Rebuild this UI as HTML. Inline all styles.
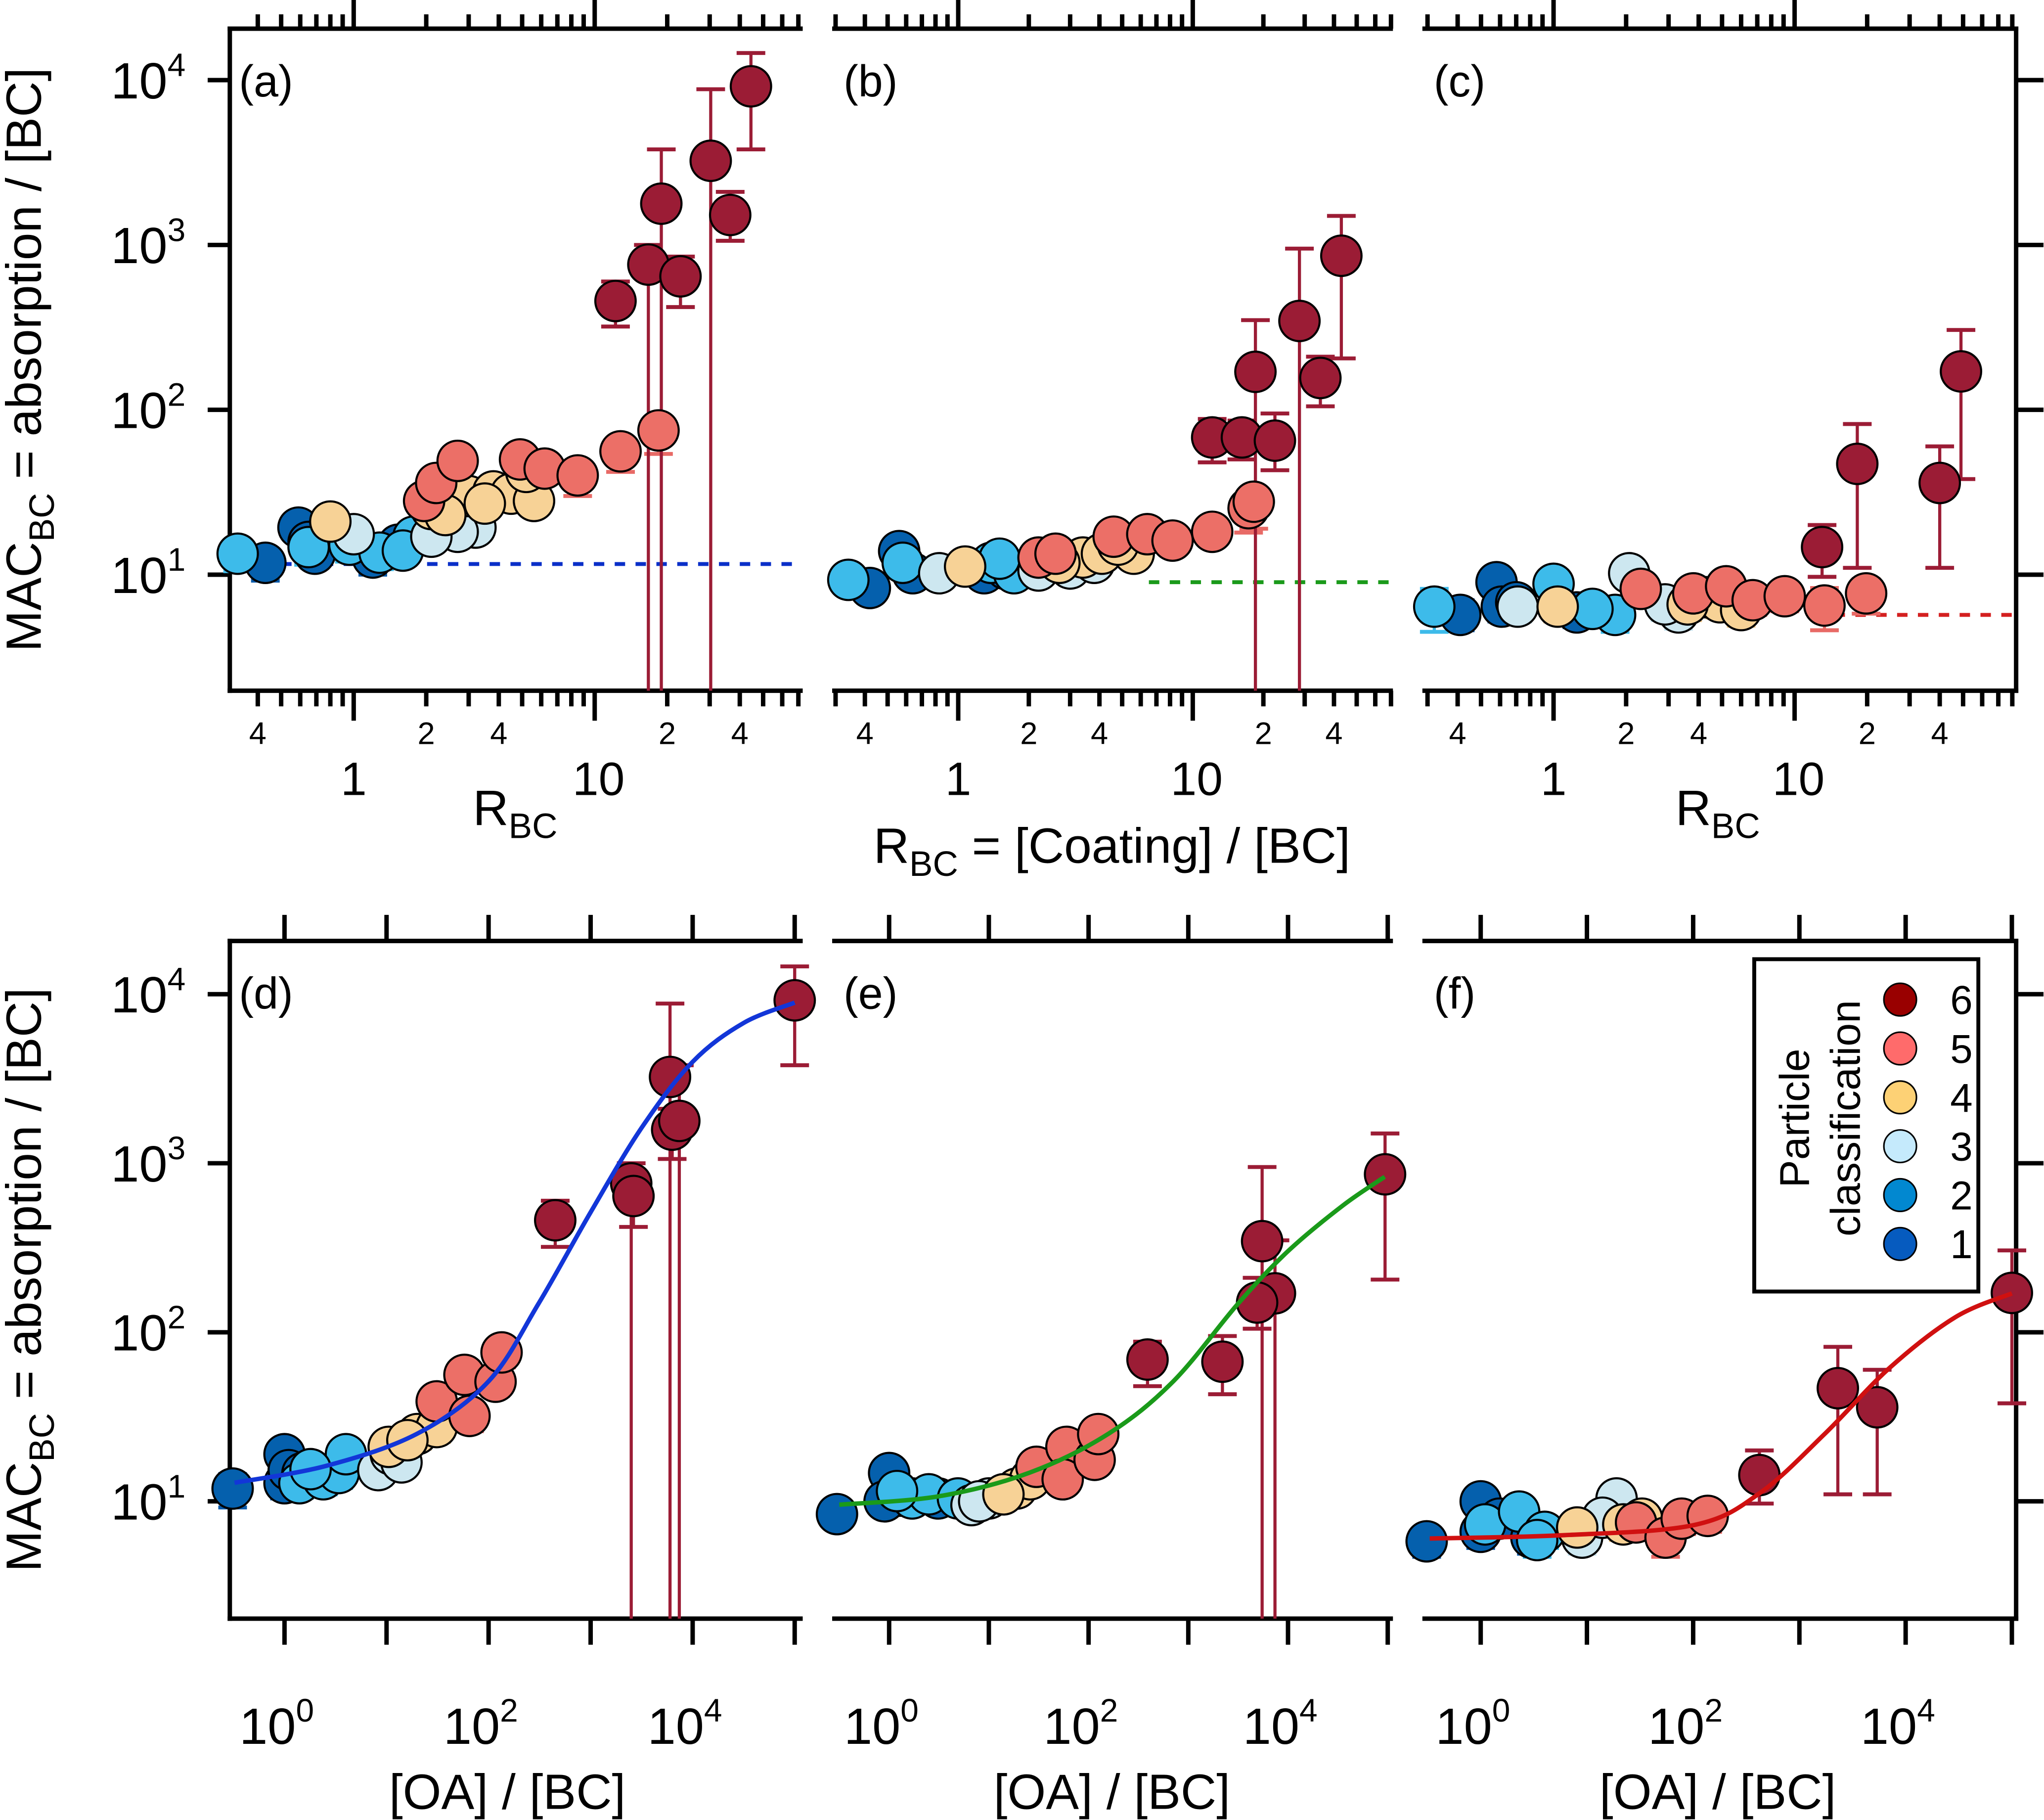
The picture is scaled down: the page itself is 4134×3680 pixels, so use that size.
<!DOCTYPE html>
<html><head><meta charset="utf-8"><style>html,body{margin:0;padding:0;background:#fff}svg{display:block}text{font-family:"Liberation Sans",Arial,sans-serif;fill:#000}</style></head>
<body>
<svg id="chart" xmlns="http://www.w3.org/2000/svg" width="4134" height="3680" viewBox="0 0 1568 1396.5"></svg>
<script>
// ---------- DATA ----------
const catColors = ["#0560ad","#3dbbea","#cde7f0","#f7d296","#ec6f67","#9b1c35"];
const errColors = ["#0a5bab","#3dbbea","#c5e2ee","#f3c98a","#e86a66","#9b1c35"];
const legendColors = ["#065bbf","#0288d0","#c5eafc","#fdd175","#ff6b6b","#990000"];
const legendLabels = ["1","2","3","4","5","6"];

// Panel (a): R_BC vs MAC
const aX  = [0.33,0.65,0.96,1.28,1.77,1.6, 0.43,0.59,0.65,0.69,1.2,1.53, 1.0,2.5,3.2,2.7,2.1, 0.8,2.1,3.0,3.8,4.5,5.6,5.2,3.5,2.4, 1.96,2.2,2.7,4.9,6.2,8.5,12.8,18.4, 12.2,16.7,18.9,22.7,30.3,36.5,44.5];
const aY  = [13.4,14.7,15.2,13.6,17,14, 11.8,19.3,15.8,13.4,12.7,15.2, 17.6,19.3,19.3,18.2,17, 21,25,30,32,31,28,42,27,23, 28,36,49,50,44,40,56,75, 457,760,1780,645,3240,1520,9170];
const aC  = [2,2,2,2,2,2, 1,1,1,1,1,1, 3,3,3,3,3, 4,4,4,4,4,4,4,4,4, 5,5,5,5,5,5,5,5, 6,6,6,6,6,6,6];
const aLo = [10.5,11.5,12,10.8,14,11.5, 9.2,16,13,11,10,12.5, 14.5,16,16,15,14, 18,21,26,28,27,24,36,23,20, 24,31,42,43,38,30,42,54, 320,0,0,420,0,1060,3800];
const aHi = [15,17,17.5,15.5,19.5,16, 13.5,23,18,15,14.5,17.5, 20,22,22,21,19.5, 24,29,35,37,36,33,50,31,26.5, 33,42,56,57,51,48,68,90, 600,1000,3800,850,8800,2100,14600];

// Panel (b)
const bX  = [0.34,0.58,1.38,1.73,1.5, 0.42,0.56,0.64,1.29,1.6, 0.83,2.2,3.0,3.8, 1.07,3.4,4.1,5.6,4.8,2.7, 2.2,2.6,4.6,6.4,8.2,12.1,17.3,18.2, 12.1,16.2,18.5,22.4,28.5,35,43];
const bY  = [9.3,11.8,11.8,10.2,12.5, 8.3,13.9,10.2,10.2,10.8, 10.2,10.6,10.9,11.8, 11.2,12.7,13.4,13.4,15.2,11.8, 12.7,13.4,17,17.6,16.1,18.2,25.3,27.7, 68,68,170,65,346,156,860];
const bC  = [2,2,2,2,2, 1,1,1,1,1, 3,3,3,3, 4,4,4,4,4,4, 5,5,5,5,5,5,5,5, 6,6,6,6,6,6,6];
const bLo = [7.8,10,10,8.6,10.5, 7,11.8,8.6,8.6,9.1, 8.6,9,9.2,10, 9.5,10.8,11.4,11.4,13,10, 10.8,11.4,14.4,15,13.7,15.5,18,19, 48,50,0,43,0,105,205];
const bHi = [11,13.8,13.8,12,14.6, 9.8,16.3,12,12,12.6, 12,12.4,12.8,13.8, 13.1,14.9,15.7,15.7,17.8,13.8, 14.9,15.7,19.9,20.6,18.8,21.3,30,33, 88,86,350,95,950,210,1500];

// Panel (c)
const cX  = [0.32,1.0,1.8,1.45, 0.41,0.58,0.61,0.7,1.25, 0.71,2.06,3.3,2.9, 1.04,4.3,4.9,6.0,3.6, 2.3,3.8,5.2,6.7,9.1,13.3,19.8, 13.0,18.2,40,49];
const cY  = [6.4,8.8,5.7,6.2, 5.7,9.0,6.4,6.8,5.9, 6.4,10.2,5.9,6.6, 6.4,7.3,6.8,6.1,6.6, 8.2,7.7,8.5,7.0,7.4,6.5,7.7, 14.7,47,36,171];
const cC  = [2,2,2,2, 1,1,1,1,1, 3,3,3,3, 4,4,4,4,4, 5,5,5,5,5,5,5, 6,6,6,6];
const cLo = [4.5,7.2,4.5,5, 4.6,7.5,5.2,5.5,4.8, 5.2,8.4,4.7,5.3, 5.2,6,5.5,4.9,5.3, 6.7,6.3,7,5.7,6,4.6,5.8, 9.7,11,11,38];
const cHi = [8.2,10.5,7,7.5, 7,10.6,7.7,8.1,7.1, 7.7,12,7.1,7.9, 7.7,8.7,8.1,7.3,7.9, 9.8,9.2,10.1,8.4,8.8,8.3,9.4, 20,82,60,305];

// Panel (d): OA/BC vs MAC
const dX  = [1.4,2.4,3.4,4.0,1.8, 0.31,1.0,1.0,1.1,1.5, 8.3,11,14, 10.5,20,31,16, 31,58,65,117,134, 450,2500,2630,6000,6300,7400,100000];
const dY  = [12.8,13.5,14.7,19,15.5, 11.9,19,12.8,15.3,14.7, 15.3,19,17, 21,25,27.5,23, 39,56,32,51,76, 460,760,640,3240,1580,1780,9200];
const dC  = [2,2,2,2,2, 1,1,1,1,1, 3,3,3, 4,4,4,4, 5,5,5,5,5, 6,6,6,6,6,6,6];
const dLo = [10.5,11,12,15.5,12.5, 9.2,15.5,10.4,12.5,12, 12.5,15.5,14, 17,20.5,22.5,19, 32,46,26,42,62, 320,0,420,0,1060,0,3800];
const dHi = [15,16,17.5,22.5,18.5, 14.5,22.5,15.2,18.2,17.5, 18.2,22.5,20, 25,29.5,32.5,27, 46,66,38,60,90, 600,1000,850,8800,2100,3800,14600];

// Panel (e)
const eX  = [1.7,2.5,4.9,1.2, 0.3,1.0,1.27,3.1,0.9, 6.7,10,8, 19,26,14, 30,60,55,115,125, 390,2200,5500,7400,4900,94000];
const eY  = [10.4,11,10.4,11.5, 8.4,14.7,10.8,10.4,10, 9.5,10.4,10, 11.9,13.5,11, 16,21,13.5,17.6,25, 69,67,346,170,150,860];
const eC  = [2,2,2,2, 1,1,1,1,1, 3,3,3, 4,4,4, 5,5,5,5,5, 6,6,6,6,6,6];
const eLo = [8.7,9.2,8.7,9.6, 7,12.3,9,8.7,8.4, 7.9,8.7,8.4, 9.9,11.3,9.2, 13.4,17.5,11.3,14.7,20.9, 48,43,0,0,105,205];
const eHi = [12.1,12.8,12.1,13.4, 9.8,17.1,12.6,12.1,11.6, 11.1,12.1,11.6, 13.9,15.7,12.8, 18.6,24.5,15.7,20.5,29, 88,95,950,350,210,1500];

// Panel (f)
const fX  = [1.1,2.3,4.0,3.4, 0.31,1.0,1.0,1.5,3.0, 9,19,14, 8.1,22,33, 29,55,78,137, 420,2300,5400,100000];
const fY  = [7.3,8.7,6.6,5.9, 5.8,10,6.6,7.9,6.1, 6.1,10.4,8, 7,7.3,7.9, 7.5,6.1,7.9,8.2, 14.3,46.7,36,171];
const fC  = [2,2,2,2, 1,1,1,1,1, 3,3,3, 4,4,4, 5,5,5,5, 6,6,6,6];
const fLo = [5.9,7,5.3,4.7, 4.7,8.2,5.3,6.4,4.9, 4.9,8.4,6.4, 5.6,5.9,6.4, 6,4.7,6.4,6.6, 9.7,11,11,38];
const fHi = [8.7,10.4,7.9,7.1, 7,11.8,7.9,9.4,7.3, 7.3,12.4,9.6, 8.4,8.7,9.4, 9,7.5,9.4,9.8, 20,82,60,305];

// Fitted curves (log10 OA/BC, log10 MAC)
const fitDx = [-0.49,0.41,1.30,2.0,2.49,3.0,3.5,4.0,4.5,5.0];
const fitDy = [1.11,1.21,1.40,1.71,2.17,2.71,3.21,3.60,3.83,3.95];
const fitEx = [-0.5,0.5,1.41,2.2,2.85,3.5,4.0,4.55,4.97];
const fitEy = [0.98,1.03,1.17,1.40,1.71,2.17,2.48,2.75,2.92];
const fitFx = [-0.48,0.79,2.01,2.63,3.24,3.85,4.47,5.0];
const fitFy = [0.78,0.80,0.86,1.05,1.40,1.79,2.09,2.23];

// Dashed reference levels (MAC) and x-start (R_BC)
const refLevels = [11.6, 9.0, 5.7];
const refStart  = [0.5, 6.5, 12];

// ---------- DRAWING ----------
const NS="http://www.w3.org/2000/svg";
const svg=document.getElementById('chart');
function el(tag,attrs,parent){const e=document.createElementNS(NS,tag);for(const k in attrs)e.setAttribute(k,attrs[k]);(parent||svg).appendChild(e);return e;}
const lg=Math.log10;

function makePanel(p){
  const g=el('g',{});
  
  
  const sx=v=>p.x0+(lg(v)-p.lx[0])/(p.lx[1]-p.lx[0])*(p.x1-p.x0);
  const sy=v=>p.y1-(lg(v)-p.ly[0])/(p.ly[1]-p.ly[0])*(p.y1-p.y0);
  const syl=l=>p.y1-(l-p.ly[0])/(p.ly[1]-p.ly[0])*(p.y1-p.y0);
  const sxl=l=>p.x0+(l-p.lx[0])/(p.lx[1]-p.lx[0])*(p.x1-p.x0);
  p.sx=sx;p.sy=sy;p.sxl=sxl;p.syl=syl;
  const ax={stroke:'#000','stroke-width':3.4,'stroke-linecap':'square'};
  let t=el('line',Object.assign({x1:p.x0,x2:p.x1,y1:p.y0,y2:p.y0},ax),g);
   
  t=el('line',Object.assign({x1:p.x0,x2:p.x1,y1:p.y1,y2:p.y1},ax),g);
   
  if(p.left){t=el('line',Object.assign({x1:p.x0,x2:p.x0,y1:p.y0,y2:p.y1},ax),g);}
  if(p.right){t=el('line',Object.assign({x1:p.x1,x2:p.x1,y1:p.y0,y2:p.y1},ax),g);}
  for(let d=1;d<=4;d++){
    const y=sy(Math.pow(10,d));
    if(p.left){
      el('line',{x1:p.x0-17,x2:p.x0,y1:y,y2:y,stroke:'#000','stroke-width':3.4},g);
      const tx=el('text',{x:p.x0-34,y:y+14,'text-anchor':'end','font-size':39},g);
       
      tx.innerHTML='10<tspan dy="-17" font-size="25">'+d+'</tspan>';
    }
    if(p.right) el('line',{x1:p.x1,x2:p.x1+21,y1:y,y2:y,stroke:'#000','stroke-width':3.4},g);
  }
  if(p.type==='R'){
    for(let e=-1;e<=1;e++)for(let m=1;m<=9;m++){
      const v=m*Math.pow(10,e); const X=sx(v);
      if(X<p.x0-0.5||X>p.x1+0.5)continue;
      const major=m===1;
      el('line',{x1:X,x2:X,y1:p.y1,y2:p.y1+(major?23:12),stroke:'#000','stroke-width':3.4},g);
      el('line',{x1:X,x2:X,y1:p.y0,y2:p.y0-(major?22:11),stroke:'#000','stroke-width':3.4},g);
      if(m===2||m===4){const tx=el('text',{x:X,y:p.y1+41,'text-anchor':'middle','font-size':24},g);tx.textContent=m;}
      if(major&&e>=0){const tx=el('text',{x:X+(e===1?3:0),y:p.y1+80,'text-anchor':'middle','font-size':36},g);tx.textContent=(e===0?'1':'10');}
    }
  } else {
    for(let d=0;d<=5;d++){
      const X=sx(Math.pow(10,d));
      el('line',{x1:X,x2:X,y1:p.y1,y2:p.y1+20,stroke:'#000','stroke-width':3.4},g);
      el('line',{x1:X,x2:X,y1:p.y0,y2:p.y0-20,stroke:'#000','stroke-width':3.4},g);
      if(d%2===0&&d<5){const tx=el('text',{x:X-6,y:p.y1+96,'text-anchor':'middle','font-size':39},g);tx.innerHTML='10<tspan dy="-17" font-size="25">'+d+'</tspan>';}
    }
  }
  const lt=el('text',{x:p.x0+7,y:p.y0+52,'font-size':34},g);
  lt.textContent='('+p.id+')';
   
  return g;
}

function drawPoints(p,X,Y,C,LO,HI){
  const g=el('g',{});
  
  
  const order=[...X.keys()].sort((i,j)=>C[i]-C[j]);
  const yBottom=p.y1, yTop=p.y0;
  for(const i of order){
    const X0=p.sx(X[i]);
    const ylo=LO[i]>0?p.sy(LO[i]):yBottom;
    const yhi=Math.max(p.sy(HI[i]),yTop);
    const col=errColors[C[i]-1];
    const eb=el('g',{stroke:col,'stroke-width':2.4},g);
    
    
    el('line',{x1:X0,x2:X0,y1:ylo,y2:yhi},eb);
    el('line',{x1:X0-11,x2:X0+11,y1:yhi,y2:yhi,'stroke-width':3},eb);
    if(LO[i]>0) el('line',{x1:X0-11,x2:X0+11,y1:ylo,y2:ylo,'stroke-width':3},eb);
  }
  for(const i of order){
    const c=el('circle',{cx:p.sx(X[i]),cy:p.sy(Y[i]),r:15.5,fill:catColors[C[i]-1],stroke:'#000','stroke-width':1.6},g);
    
    
  }
}

function smoothPath(pts){
  let d='M'+pts[0][0]+','+pts[0][1];
  for(let i=0;i<pts.length-1;i++){
    const p0=pts[Math.max(0,i-1)],p1=pts[i],p2=pts[i+1],p3=pts[Math.min(pts.length-1,i+2)];
    const c1=[p1[0]+(p2[0]-p0[0])/6,p1[1]+(p2[1]-p0[1])/6];
    const c2=[p2[0]-(p3[0]-p1[0])/6,p2[1]-(p3[1]-p1[1])/6];
    d+=' C'+c1+' '+c2+' '+p2;
  }
  return d;
}
function drawFit(p,lx,ly,color){
  const pts=lx.map((v,i)=>[p.sxl(v),p.syl(ly[i])]);
  const path=el('path',{d:smoothPath(pts),fill:'none',stroke:color,'stroke-width':3.4});
  
  
}
function drawRef(p,level,start,color){
  const l=el('line',{x1:p.sx(start),x2:p.x1,y1:p.sy(level),y2:p.sy(level),stroke:color,'stroke-width':3,'stroke-dasharray':'8 8'});
  
  
}

const topLy=[0.296,4.312], botLy=[0.306,4.315];
const A={id:'a',type:'R',x0:176,x1:614,y0:22,y1:530,lx:[-0.514,1.854],ly:topLy,left:true};
const B={id:'b',type:'R',x0:640,x1:1067,y0:22,y1:530,lx:[-0.528,1.844],ly:topLy};
const C_={id:'c',type:'R',x0:1093,x1:1547,y0:22,y1:530,lx:[-0.535,1.919],ly:topLy,right:true};
const D={id:'d',type:'OA',x0:176,x1:614,y0:722,y1:1242,lx:[-0.536,5.057],ly:botLy,left:true};
const E={id:'e',type:'OA',x0:640,x1:1067,y0:722,y1:1242,lx:[-0.549,5.03],ly:botLy};
const F={id:'f',type:'OA',x0:1093,x1:1547,y0:722,y1:1242,lx:[-0.528,5.04],ly:botLy,right:true};
[A,B,C_,D,E,F].forEach(makePanel);

drawRef(A,refLevels[0],refStart[0],'#0a2fc8');
drawRef(B,refLevels[1],refStart[1],'#1a9a1a');
drawRef(C_,refLevels[2],refStart[2],'#d42020');
drawPoints(A,aX,aY,aC,aLo,aHi);
drawPoints(B,bX,bY,bC,bLo,bHi);
drawPoints(C_,cX,cY,cC,cLo,cHi);
drawPoints(D,dX,dY,dC,dLo,dHi);
drawPoints(E,eX,eY,eC,eLo,eHi);
drawPoints(F,fX,fY,fC,fLo,fHi);
drawFit(D,fitDx,fitDy,'#1236d8');
drawFit(E,fitEx,fitEy,'#1a9a1a');
drawFit(F,fitFx,fitFy,'#d01010');

function txt(x,y,html,size,name,extra){const t=el('text',Object.assign({x:x,y:y,'font-size':size,'text-anchor':'middle'},extra||{}));t.innerHTML=html;return t;}
txt(0,0,'MAC<tspan dy="10" font-size="27">BC</tspan><tspan dy="-10"> = absorption / [BC]</tspan>',38,'y-axis-title-top',{transform:'translate(31,276) rotate(-90)'});
txt(0,0,'MAC<tspan dy="10" font-size="27">BC</tspan><tspan dy="-10"> = absorption / [BC]</tspan>',38,'y-axis-title-bottom',{transform:'translate(31,982) rotate(-90)'});
txt(395,633,'R<tspan dy="10" font-size="27">BC</tspan>',38,'x-axis-title-a');
txt(853,662,'R<tspan dy="10" font-size="27">BC</tspan><tspan dy="-10"> = [Coating] / [BC]</tspan>',38,'x-axis-title-b');
txt(1318,633,'R<tspan dy="10" font-size="27">BC</tspan>',38,'x-axis-title-c');
txt(389,1388,'[OA] / [BC]',38,'x-axis-title-d');
txt(853,1388,'[OA] / [BC]',38,'x-axis-title-e');
txt(1318,1388,'[OA] / [BC]',38,'x-axis-title-f');

const lgG=el('g',{});


const lr=el('rect',{x:1346,y:736,width:172,height:255,fill:'#fff',stroke:'#000','stroke-width':3},lgG);
 
const t1=el('text',{x:0,y:0,'font-size':32,'text-anchor':'middle',transform:'translate(1388,858) rotate(-90)'},lgG);
t1.textContent='Particle';
 
const t2=el('text',{x:0,y:0,'font-size':32,'text-anchor':'middle',transform:'translate(1427,858) rotate(-90)'},lgG);
t2.textContent='classification';
 
for(let k=0;k<6;k++){
  const y=767+k*37.5; const ci=5-k;
  const c=el('circle',{cx:1458,cy:y,r:12.5,fill:legendColors[ci],stroke:'#000','stroke-width':1.2},lgG);
   
  const t=el('text',{x:1505,y:y+11,'font-size':31,'text-anchor':'middle'},lgG);
  t.textContent=legendLabels[ci];
   
}
</script>
</body></html>
